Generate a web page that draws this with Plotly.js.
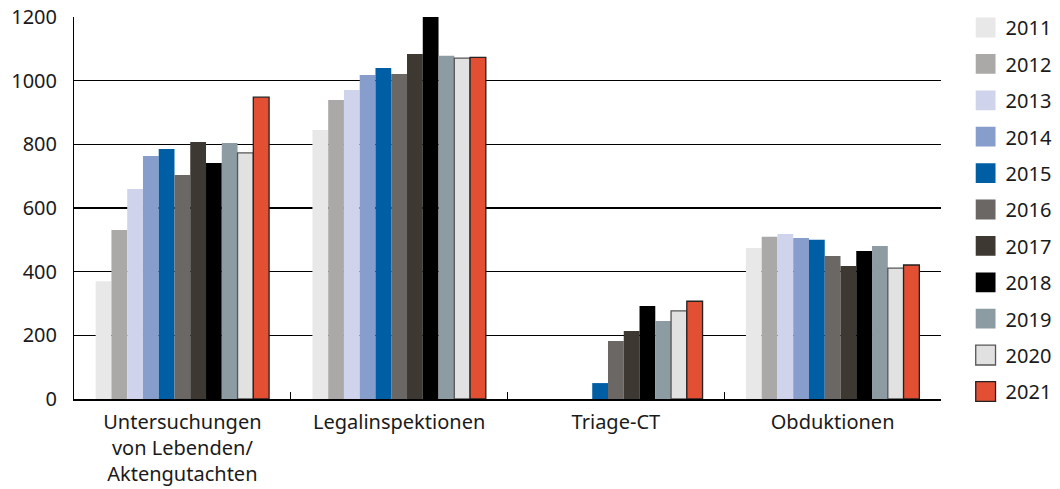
<!DOCTYPE html>
<html>
<head>
<meta charset="utf-8">
<script src="https://cdn.plot.ly/plotly-3.0.1.min.js"></script>
<style>html,body{margin:0;padding:0;background:#fff;}#chart{width:1060px;height:489px;}</style>
</head>
<body>
<div id="chart"></div>
<script>
const categories = ["Untersuchungen<br>von Lebenden/<br>Aktengutachten", "Legalinspektionen", "Triage-CT", "Obduktionen"];
const years = ["2011","2012","2013","2014","2015","2016","2017","2018","2019","2020","2021"];
const v2011 = [370, 845, null, 474];
const v2012 = [531, 939, null, 510];
const v2013 = [660, 971, null, 518];
const v2014 = [763, 1018, null, 506];
const v2015 = [785, 1040, 50, 500];
const v2016 = [704, 1021, 182, 449];
const v2017 = [807, 1084, 214, 418];
const v2018 = [741, 1200, 292, 465];
const v2019 = [804, 1078, 245, 481];
const v2020 = [773, 1071, 277, 411];
const v2021 = [948, 1073, 307, 421];
const seriesValues = [v2011, v2012, v2013, v2014, v2015, v2016, v2017, v2018, v2019, v2020, v2021];
const colors = ["#e8e8e8","#aaa9a7","#cfd4ec","#879dcb","#005ea5","#6b6764","#3d3832","#000000","#8d9ba2","#e1e1e1","#e34f33"];
const lineColors = [null,null,null,null,null,null,null,null,null,"#555555","#222222"];

const font = "'Noto Sans', 'Open Sans', sans-serif";
const fsize = 20;
const traces = years.map((y, i) => ({
  type: "bar",
  name: y,
  x: categories,
  y: seriesValues[i],
  legendgroup: "g" + i,
  marker: {
    color: colors[i],
    line: lineColors[i] ? {color: lineColors[i], width: 1.3} : {width: 0}
  },
  hoverinfo: "skip"
}));

const layout = {
  width: 1060, height: 489,
  margin: {l: 74, r: 119, t: 17, b: 90, autoexpand: false},
  paper_bgcolor: "#fff", plot_bgcolor: "#fff",
  font: {family: font, size: fsize, color: "#1a1a1a"},
  barmode: "group", bargap: 0.2, bargroupgap: 0,
  showlegend: true,
  legend: {
    x: 1.0284, xanchor: "left", y: 1.0235, yanchor: "top",
    traceorder: "grouped", tracegroupgap: 7.4,
    maxheight: 489,
    font: {family: font, size: fsize, color: "#1a1a1a"},
    itemclick: false
  },
  xaxis: {
    type: "category",
    tickson: "boundaries", ticks: "inside", ticklen: 7, tickcolor: "#000", tickwidth: 1,
    showline: true, linecolor: "#000", linewidth: 1.5,
    showgrid: false, fixedrange: true, ticklabelstandoff: 4,
    tickfont: {family: font, size: fsize, color: "#1a1a1a"}
  },
  yaxis: {
    range: [0, 1200], tickvals: [0,200,400,600,800,1000,1200],
    showgrid: true, gridcolor: "#000", gridwidth: 1.2,
    showline: true, linecolor: "#000", linewidth: 1,
    zeroline: false, ticks: "", ticklabelstandoff: 12,
    fixedrange: true,
    tickfont: {family: font, size: fsize, color: "#1a1a1a"}
  }
};

Plotly.newPlot("chart", traces, layout, {displayModeBar: false, staticPlot: true}).then(() => {
  document.querySelectorAll(".legendpoints path").forEach(p => {
    const old = p.getAttribute("transform") || "";
    p.setAttribute("transform", old + " scale(1.65)");
    p.style.vectorEffect = "non-scaling-stroke";
  });
});
</script>
</body>
</html>
